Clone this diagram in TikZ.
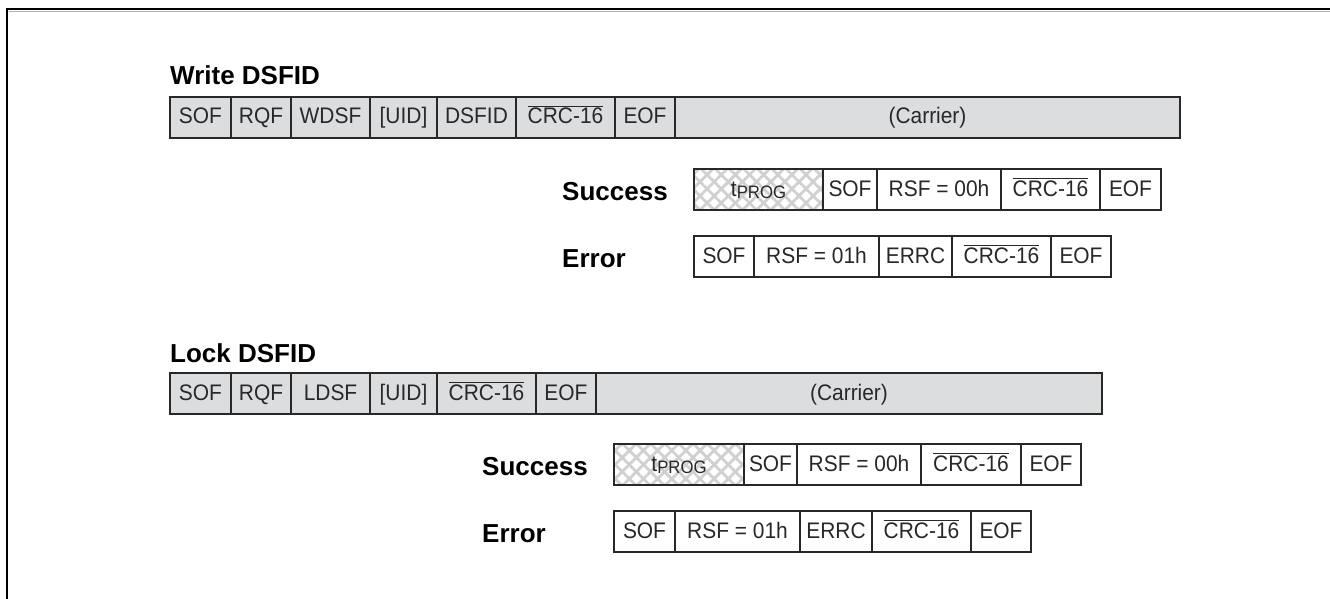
\documentclass[tikz,border=0pt]{standalone}
\usepackage{fontspec}
\setmainfont{Liberation Sans}
\newfontfamily\cellfont{Liberation Sans}[FakeStretch=0.93]
\usetikzlibrary{patterns.meta}
\definecolor{cellgray}{RGB}{220,221,223}
\definecolor{hatchgray}{RGB}{208,208,210}
\definecolor{ink}{RGB}{40,40,40}
\newcommand\crcov{$\overline{\mbox{CRC-16\rule{0pt}{16.5pt}}}$}
\newcommand\tprog{t\raisebox{-2.5pt}{\fontsize{18}{18}\selectfont PROG}}
\newcommand\cellnode[6]{%
  \pgfmathsetmacro\cw{#4-#3}%
  \node[#1, minimum width=\cw pt, anchor=north west] (#2) at (#3,#5) {#6};}
\tikzset{
  cellbase/.style={draw=ink, line width=1.2pt, minimum height=41pt, inner sep=0pt, outer sep=0pt,
    text height=16pt, text depth=3pt,
    font=\cellfont\fontsize{22.5}{24}\selectfont, text=ink},
  graycell/.style={cellbase, fill=cellgray},
  whitecell/.style={cellbase, fill=white},
  hatchcell/.style={cellbase, fill=white,
    path picture={
      \fill[pattern={Lines[angle=45,distance=10pt,line width=2.8pt]}, pattern color=hatchgray]
        (path picture bounding box.south west) rectangle (path picture bounding box.north east);
      \fill[pattern={Lines[angle=-45,distance=10pt,line width=2.8pt]}, pattern color=hatchgray]
        (path picture bounding box.south west) rectangle (path picture bounding box.north east);
    }},
  title/.style={anchor=base west, inner sep=0pt, font=\fontsize{26}{28}\selectfont\bfseries, text=black},
  frameline/.style={line width=2.6pt, draw=black}
}
\begin{document}
\begin{tikzpicture}[x=1pt,y=-1pt]
\useasboundingbox (0,0) rectangle (1330,599);
\draw[frameline] (7,599) -- (7,9) -- (1330,9);
\draw[line width=1pt, draw=black!30] (9,11.8) -- (1330,11.8);

% ---- Write DSFID ----
\node[title] (wtitle) at (170,85) {Write DSFID};
\cellnode{graycell}{w1}{170}{231}{97}{SOF}
\cellnode{graycell}{w2}{231}{291}{97}{RQF}
\cellnode{graycell}{w3}{291}{370}{97}{WDSF}
\cellnode{graycell}{w4}{370}{437}{97}{[UID]}
\cellnode{graycell}{w5}{437}{516}{97}{DSFID}
\cellnode{graycell}{w6}{516}{615}{97}{\crcov}
\cellnode{graycell}{w7}{615}{675}{97}{EOF}
\cellnode{graycell}{w8}{675}{1180}{97}{(Carrier)}

\node[title] (wsucc) at (562,200) {Success};
\cellnode{hatchcell}{ws1}{694}{823}{169}{\tprog}
\cellnode{whitecell}{ws2}{823}{877}{169}{SOF}
\cellnode{whitecell}{ws3}{877}{1001}{169}{RSF = 00h}
\cellnode{whitecell}{ws4}{1001}{1100}{169}{\crcov}
\cellnode{whitecell}{ws5}{1100}{1161}{169}{EOF}

\node[title] (werr) at (562,267) {Error};
\cellnode{whitecell}{we1}{694}{754}{236}{SOF}
\cellnode{whitecell}{we2}{754}{879}{236}{RSF = 01h}
\cellnode{whitecell}{we3}{879}{952}{236}{ERRC}
\cellnode{whitecell}{we4}{952}{1051}{236}{\crcov}
\cellnode{whitecell}{we5}{1051}{1111}{236}{EOF}

% ---- Lock DSFID ----
\node[title] (ltitle) at (170,362) {Lock DSFID};
\cellnode{graycell}{l1}{170}{231}{373}{SOF}
\cellnode{graycell}{l2}{231}{291}{373}{RQF}
\cellnode{graycell}{l3}{291}{370}{373}{LDSF}
\cellnode{graycell}{l4}{370}{437}{373}{[UID]}
\cellnode{graycell}{l5}{437}{536}{373}{\crcov}
\cellnode{graycell}{l6}{536}{596}{373}{EOF}
\cellnode{graycell}{l7}{596}{1102}{373}{(Carrier)}

\node[title] (lsucc) at (482,475) {Success};
\cellnode{hatchcell}{ls1}{614}{744}{444}{\tprog}
\cellnode{whitecell}{ls2}{744}{797}{444}{SOF}
\cellnode{whitecell}{ls3}{797}{921}{444}{RSF = 00h}
\cellnode{whitecell}{ls4}{921}{1021}{444}{\crcov}
\cellnode{whitecell}{ls5}{1021}{1081}{444}{EOF}

\node[title] (lerr) at (482,542) {Error};
\cellnode{whitecell}{le1}{614}{675}{511}{SOF}
\cellnode{whitecell}{le2}{675}{800}{511}{RSF = 01h}
\cellnode{whitecell}{le3}{800}{872}{511}{ERRC}
\cellnode{whitecell}{le4}{872}{971}{511}{\crcov}
\cellnode{whitecell}{le5}{971}{1031}{511}{EOF}
\end{tikzpicture}
\end{document}
